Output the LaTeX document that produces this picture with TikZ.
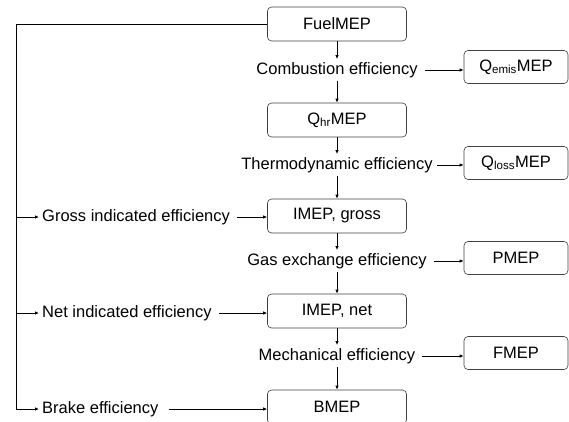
\documentclass[tikz,border=0pt]{standalone}
\usepackage{fontspec}
\setmainfont{Liberation Sans}
\usetikzlibrary{arrows.meta}

\begin{document}
\begin{tikzpicture}[x=1pt,y=-1pt,
  font=\fontsize{16.5}{19}\selectfont,
  mepbox/.style={draw=black!75,line width=0.6pt,rounded corners=4pt,
    minimum width=139pt,minimum height=34pt,inner sep=0pt},
  lossbox/.style={mepbox,minimum width=104pt,minimum height=33pt},
  efftext/.style={inner sep=3pt,text height=12pt,text depth=3.5pt},
  arr/.style={line width=0.9pt,-{Latex[length=4pt,width=3.5pt]}}]
\useasboundingbox (0,0) rectangle (569,421);

\node [mepbox] (fuel) at (337,24) {FuelMEP};
\node [efftext] (comb) at (337,70) {Combustion efficiency};
\node [lossbox] (qemis) at (516,67) {Q\textsubscript{emis}MEP};

\node [mepbox] (qhr) at (337,120) {Q\textsubscript{hr}MEP};
\node [efftext] (thermo) at (337,165) {Thermodynamic efficiency};
\node [lossbox] (qloss) at (516,163) {Q\textsubscript{loss}MEP};

\node [mepbox] (imepg) at (337,216) {IMEP, gross};
\node [efftext] (gasex) at (337,261) {Gas exchange efficiency};
\node [lossbox] (pmep) at (516,258) {PMEP};

\node [mepbox] (imepn) at (337,311) {IMEP, net};
\node [efftext] (mech) at (337,356) {Mechanical efficiency};
\node [lossbox] (fmep) at (516,353) {FMEP};

\node [mepbox] (bmep) at (337,407) {BMEP};

\node [efftext,anchor=west] (gross) at (39,217) {Gross indicated efficiency};
\node [efftext,anchor=west] (net) at (39,313) {Net indicated efficiency};
\node [efftext,anchor=west] (brake) at (39,409) {Brake efficiency};

\coordinate (lft) at (16,24);

% main chain
\draw [arr] (fuel) -- (comb);
\draw [arr] (comb) -- (qhr);
\draw [arr] (qhr) -- (thermo);
\draw [arr] (thermo) -- (imepg);
\draw [arr] (imepg) -- (gasex);
\draw [arr] (gasex) -- (imepn);
\draw [arr] (imepn) -- (mech);
\draw [arr] (mech) -- (bmep);

% losses
\draw [arr] ([xshift=4pt]comb.east) -- (qemis.west |- comb.east);
\draw [arr] ([xshift=1pt]thermo.east) -- (qloss.west |- thermo.east);
\draw [arr] ([xshift=4pt]gasex.east) -- (pmep.west |- gasex.east);
\draw [arr] ([xshift=4pt]mech.east) -- (fmep.west |- mech.east);

% left branch
\draw [arr] (fuel.west) -- (lft) |- (brake.west);
\draw [arr] (lft |- gross.west) -- (gross.west);
\draw [arr] (lft |- net.west) -- (net.west);

\draw [arr] ([xshift=4pt]gross.east) -- (imepg.west |- gross.east);
\draw [arr] ([xshift=4pt]net.east) -- (imepn.west |- net.east);
\draw [arr] ([xshift=7pt]brake.east) -- (bmep.west |- brake.east);

\end{tikzpicture}
\end{document}
